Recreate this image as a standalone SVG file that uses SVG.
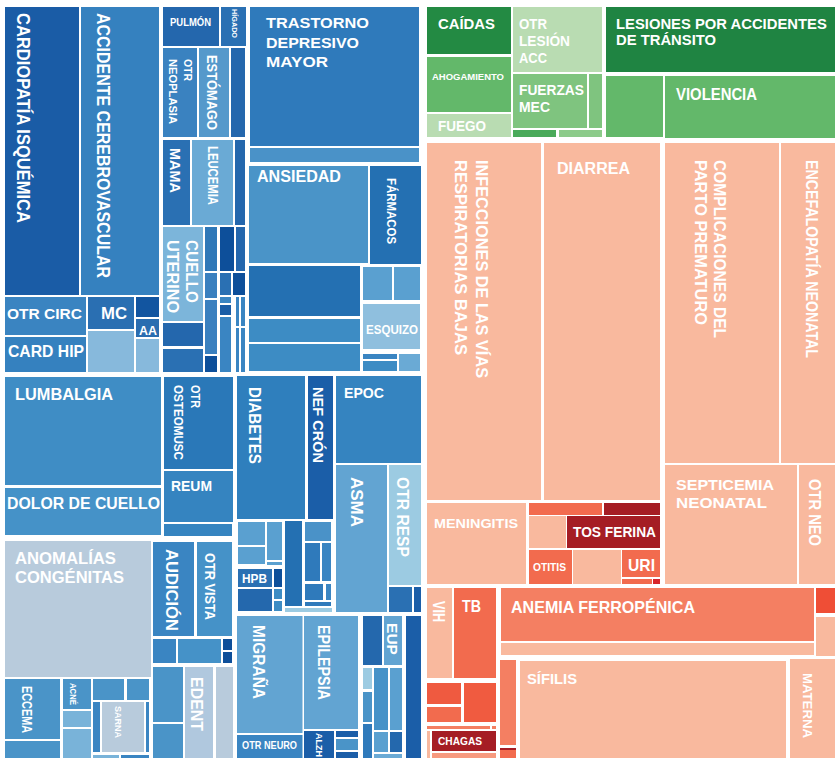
<svg xmlns="http://www.w3.org/2000/svg" width="835" height="761" viewBox="0 0 835 761">
<style>
text{font-family:"Liberation Sans",Arial,sans-serif;font-weight:bold;fill:#fff}
</style>
<rect width="835" height="761" fill="#fff"/>
<g id="cardiovascular">
<g id="n-cardiopatia"><rect x="5" y="7" width="74" height="288" fill="#1a5ca6"/><text transform="translate(17,13) rotate(90)" font-size="18" textLength="210" lengthAdjust="spacingAndGlyphs">CARDIOPATÍA ISQUÉMICA</text></g>
<g id="n-acv"><rect x="81" y="7" width="78" height="288" fill="#3581bf"/><text transform="translate(97,13) rotate(90)" font-size="18.5" textLength="265" lengthAdjust="spacingAndGlyphs">ACCIDENTE CEREBROVASCULAR</text></g>
<g id="n-otrcirc"><rect x="5" y="297" width="81" height="38" fill="#3a84c1"/><text x="7" y="319" font-size="15.5" textLength="75" lengthAdjust="spacingAndGlyphs">OTR CIRC</text></g>
<g id="n-cardhip"><rect x="5" y="337" width="81" height="35" fill="#3581bf"/><text x="8" y="357" font-size="16.5" textLength="76" lengthAdjust="spacingAndGlyphs">CARD HIP</text></g>
<g id="n-mc"><rect x="88" y="297" width="46" height="32" fill="#2a6fb2"/><text x="101" y="319" font-size="16.5" textLength="26" lengthAdjust="spacingAndGlyphs">MC</text></g>
<rect x="88" y="331" width="46" height="41" fill="#87b9dc"/>
<rect x="136" y="297" width="23" height="20" fill="#1255a0"/>
<g id="n-aa"><rect x="136" y="319" width="23" height="18" fill="#2a6db0"/><text x="139" y="335" font-size="12.5" textLength="18" lengthAdjust="spacingAndGlyphs">AA</text></g>
<rect x="136" y="339" width="23" height="33" fill="#87b9dc"/>
</g>
<g id="cancer">
<g id="n-pulmon"><rect x="163" y="7" width="56" height="39" fill="#2467ad"/><text x="170" y="26" font-size="10" textLength="41" lengthAdjust="spacingAndGlyphs">PULMÓN</text></g>
<g id="n-higado"><rect x="221" y="7" width="25" height="39" fill="#2a70b3"/><text transform="translate(232,9) rotate(90)" font-size="7" textLength="29" lengthAdjust="spacingAndGlyphs">HÍGADO</text></g>
<g id="n-otrneoplasia"><rect x="163" y="48" width="34" height="89" fill="#3a82c0"/><text transform="translate(184,59) rotate(90)" font-size="11.5" textLength="22" lengthAdjust="spacingAndGlyphs">OTR</text><text transform="translate(169,59) rotate(90)" font-size="11.5" textLength="65" lengthAdjust="spacingAndGlyphs">NEOPLASIA</text></g>
<g id="n-estomago"><rect x="199" y="48" width="30" height="89" fill="#5599cb"/><text transform="translate(207,55) rotate(90)" font-size="15" textLength="75" lengthAdjust="spacingAndGlyphs">ESTÓMAGO</text></g>
<rect x="231" y="48" width="14" height="89" fill="#2467ad"/>
<g id="n-mama"><rect x="163" y="140" width="27" height="85" fill="#2a70b3"/><text transform="translate(170,148) rotate(90)" font-size="15" textLength="45" lengthAdjust="spacingAndGlyphs">MAMA</text></g>
<g id="n-leucemia"><rect x="192" y="140" width="41" height="85" fill="#6aaad5"/><text transform="translate(208,146) rotate(90)" font-size="14" textLength="59" lengthAdjust="spacingAndGlyphs">LEUCEMIA</text></g>
<rect x="235" y="140" width="10" height="85" fill="#2467ad"/>
<g id="n-cuello"><rect x="163" y="227" width="40" height="94" fill="#7cb5da"/><text transform="translate(186,240) rotate(90)" font-size="17" textLength="63" lengthAdjust="spacingAndGlyphs">CUELLO</text><text transform="translate(167,240) rotate(90)" font-size="17" textLength="73" lengthAdjust="spacingAndGlyphs">UTERINO</text></g>
<rect x="163" y="323" width="40" height="23" fill="#2467ad"/>
<rect x="163" y="349" width="40" height="23" fill="#2a70b3"/>
<rect x="205" y="227" width="12" height="44" fill="#2f78b8"/>
<rect x="220" y="227" width="14" height="44" fill="#0d4f9a"/>
<rect x="236" y="227" width="9" height="44" fill="#2467ad"/>
<rect x="205" y="273" width="12" height="25" fill="#3a80bf"/>
<rect x="220" y="273" width="11" height="22" fill="#2a70b3"/>
<rect x="233" y="273" width="12" height="22" fill="#0d4f9a"/>
<rect x="205" y="300" width="12" height="54" fill="#3a80bf"/>
<rect x="205" y="356" width="12" height="16" fill="#0d4f9a"/>
<rect x="220" y="297" width="11" height="6" fill="#3a85c2"/>
<rect x="220" y="305" width="11" height="10" fill="#1a5da6"/>
<rect x="220" y="317" width="11" height="55" fill="#3a85c2"/>
<rect x="236" y="297" width="3" height="29" fill="#3a85c2"/>
<rect x="241" y="297" width="4" height="29" fill="#3a85c2"/>
<rect x="236" y="328" width="3" height="44" fill="#3a85c2"/>
<rect x="241" y="328" width="4" height="44" fill="#3a85c2"/>
</g>
<g id="mental">
<g id="n-depresivo"><rect x="250" y="7" width="169" height="139" fill="#2f7abb"/><text font-size="15.5"><tspan x="266" y="28" textLength="103" lengthAdjust="spacingAndGlyphs">TRASTORNO</tspan><tspan x="266" y="48" textLength="93" lengthAdjust="spacingAndGlyphs">DEPRESIVO</tspan><tspan x="266" y="67" textLength="62" lengthAdjust="spacingAndGlyphs">MAYOR</tspan></text></g>
<rect x="250" y="148" width="169" height="14" fill="#4a92c8"/>
<g id="n-ansiedad"><rect x="249" y="166" width="119" height="97" fill="#4a94c8"/><text x="257" y="182" font-size="16.5" textLength="84" lengthAdjust="spacingAndGlyphs">ANSIEDAD</text></g>
<g id="n-farmacos"><rect x="370" y="166" width="51" height="98" fill="#2470b2"/><text transform="translate(387,178) rotate(90)" font-size="12" textLength="66" lengthAdjust="spacingAndGlyphs">FÁRMACOS</text></g>
<rect x="249" y="266" width="111" height="50" fill="#2470b2"/>
<rect x="249" y="319" width="111" height="23" fill="#3d8cc4"/>
<rect x="249" y="344" width="111" height="27" fill="#3d8cc4"/>
<rect x="363" y="267" width="29" height="33" fill="#5aa0d0"/>
<rect x="394" y="267" width="26" height="33" fill="#5aa0d0"/>
<g id="n-esquizo"><rect x="363" y="304" width="57" height="45" fill="#8fbfde"/><text x="366" y="334" font-size="13.5" textLength="52" lengthAdjust="spacingAndGlyphs">ESQUIZO</text></g>
<rect x="363" y="354" width="34" height="5" fill="#3a85c2"/>
<rect x="363" y="361" width="34" height="10" fill="#3d8cc4"/>
<rect x="399" y="354" width="21" height="17" fill="#6aaad5"/>
</g>
<g id="musculo">
<g id="n-lumbalgia"><rect x="5" y="377" width="156" height="108" fill="#3f8dc5"/><text x="15" y="400" font-size="16.5" textLength="98" lengthAdjust="spacingAndGlyphs">LUMBALGIA</text></g>
<g id="n-dolorcuello"><rect x="5" y="488" width="156" height="47" fill="#4592c8"/><text x="7" y="509" font-size="16.5" textLength="153" lengthAdjust="spacingAndGlyphs">DOLOR DE CUELLO</text></g>
<g id="n-otrosteo"><rect x="164" y="377" width="69" height="92" fill="#2a78b8"/><text transform="translate(191,385) rotate(90)" font-size="12.5" textLength="23" lengthAdjust="spacingAndGlyphs">OTR</text><text transform="translate(174,385) rotate(90)" font-size="12.5" textLength="75" lengthAdjust="spacingAndGlyphs">OSTEOMUSC</text></g>
<g id="n-reum"><rect x="164" y="471" width="69" height="51" fill="#3584c0"/><text x="171" y="491" font-size="15" textLength="41" lengthAdjust="spacingAndGlyphs">REUM</text></g>
<rect x="164" y="524" width="68" height="12" fill="#3584c0"/>
</g>
<g id="chronic">
<g id="n-diabetes"><rect x="237" y="376" width="68" height="143" fill="#2f7fbd"/><text transform="translate(249,387) rotate(90)" font-size="17" textLength="77" lengthAdjust="spacingAndGlyphs">DIABETES</text></g>
<g id="n-nefcron"><rect x="308" y="376" width="25" height="143" fill="#1b5ea8"/><text transform="translate(313,387) rotate(90)" font-size="15" textLength="76" lengthAdjust="spacingAndGlyphs">NEF CRÓN</text></g>
<g id="n-epoc"><rect x="336" y="376" width="85" height="87" fill="#3584c0"/><text x="344" y="398" font-size="15" textLength="40" lengthAdjust="spacingAndGlyphs">EPOC</text></g>
<g id="n-asma"><rect x="336" y="465" width="51" height="147" fill="#62a4d2"/><text transform="translate(351,477) rotate(90)" font-size="16.5" textLength="50" lengthAdjust="spacingAndGlyphs">ASMA</text></g>
<g id="n-otrresp"><rect x="389" y="465" width="32" height="120" fill="#9ccbe2"/><text transform="translate(397,477) rotate(90)" font-size="17" textLength="80" lengthAdjust="spacingAndGlyphs">OTR RESP</text></g>
<rect x="389" y="587" width="23" height="25" fill="#2a70b3"/>
<rect x="414" y="587" width="7" height="25" fill="#1b5ea8"/>
<rect x="238" y="522" width="27" height="23" fill="#5aa0d0"/>
<rect x="238" y="547" width="27" height="17" fill="#5aa0d0"/>
<rect x="267" y="522" width="15" height="38" fill="#5aa0d0"/>
<rect x="267" y="562" width="15" height="3" fill="#5aa0d0"/>
<g id="n-hpb"><rect x="238" y="569" width="34" height="18" fill="#2a70b3"/><text x="242" y="583" font-size="12.5" textLength="25" lengthAdjust="spacingAndGlyphs">HPB</text></g>
<rect x="238" y="589" width="34" height="22" fill="#2468ad"/>
<rect x="274" y="569" width="8" height="18" fill="#0d4f9a"/>
<rect x="274" y="589" width="8" height="10" fill="#3d8cc4"/>
<rect x="274" y="601" width="8" height="10" fill="#3d8cc4"/>
<rect x="285" y="521" width="17" height="85" fill="#2470b2"/>
<rect x="285" y="608" width="47" height="4" fill="#9ccbe2"/>
<rect x="305" y="522" width="26" height="19" fill="#4a92c8"/>
<rect x="305" y="543" width="15" height="38" fill="#2f7abb"/>
<rect x="322" y="543" width="9" height="38" fill="#3a85c2"/>
<rect x="305" y="584" width="18" height="16" fill="#2f7abb"/>
<rect x="326" y="584" width="5" height="16" fill="#3a85c2"/>
<rect x="305" y="602" width="26" height="4" fill="#2f7abb"/>
</g>
<g id="other-ncd">
<g id="n-anomalias"><rect x="5" y="541" width="146" height="136" fill="#b8cbdc"/><text font-size="16.5"><tspan x="15" y="564" textLength="101" lengthAdjust="spacingAndGlyphs">ANOMALÍAS</tspan><tspan x="15" y="583" textLength="109" lengthAdjust="spacingAndGlyphs">CONGÉNITAS</tspan></text></g>
<g id="n-audicion"><rect x="153" y="542" width="41" height="94" fill="#3a85c2"/><text transform="translate(166,549) rotate(90)" font-size="17" textLength="82" lengthAdjust="spacingAndGlyphs">AUDICIÓN</text></g>
<g id="n-otrvista"><rect x="197" y="542" width="35" height="94" fill="#4592c8"/><text transform="translate(205,553) rotate(90)" font-size="15" textLength="67" lengthAdjust="spacingAndGlyphs">OTR VISTA</text></g>
<rect x="153" y="639" width="23" height="24" fill="#3a85c2"/>
<rect x="178" y="639" width="43" height="24" fill="#4592c8"/>
<rect x="223" y="639" width="9" height="11" fill="#0d4f9a"/>
<rect x="223" y="652" width="9" height="11" fill="#0d4f9a"/>
<g id="n-eccema"><rect x="5" y="679" width="55" height="60" fill="#4a94c8"/><text transform="translate(22,686) rotate(90)" font-size="14" textLength="47" lengthAdjust="spacingAndGlyphs">ECCEMA</text></g>
<rect x="5" y="741" width="55" height="17" fill="#4a94c8"/>
<g id="n-acne"><rect x="63" y="679" width="28" height="30" fill="#4a94c8"/><text transform="translate(70,683) rotate(90)" font-size="9" textLength="22" lengthAdjust="spacingAndGlyphs">ACNÉ</text></g>
<rect x="63" y="711" width="28" height="16" fill="#79b3d9"/>
<rect x="63" y="729" width="28" height="29" fill="#79b3d9"/>
<rect x="93" y="679" width="31" height="21" fill="#4a94c8"/>
<rect x="127" y="679" width="22" height="21" fill="#4a94c8"/>
<rect x="93" y="702" width="7" height="50" fill="#3a85c2"/>
<g id="n-sarna"><rect x="102" y="702" width="42" height="50" fill="#b8cbdc"/><text transform="translate(115,706) rotate(90)" font-size="9" textLength="32" lengthAdjust="spacingAndGlyphs">SARNA</text></g>
<rect x="146" y="702" width="3" height="50" fill="#3a85c2"/>
<rect x="93" y="755" width="26" height="3" fill="#79b3d9"/>
<rect x="121" y="755" width="28" height="3" fill="#3a85c2"/>
<rect x="153" y="667" width="30" height="55" fill="#4a94c8"/>
<rect x="153" y="724" width="30" height="34" fill="#4a94c8"/>
<g id="n-edent"><rect x="185" y="667" width="28" height="91" fill="#b0c8de"/><text transform="translate(191,677) rotate(90)" font-size="16.5" textLength="54" lengthAdjust="spacingAndGlyphs">EDENT</text></g>
<rect x="216" y="667" width="17" height="91" fill="#b8cbdc"/>
</g>
<g id="neuro">
<g id="n-migrana"><rect x="237" y="616" width="65.5" height="117" fill="#62a4d2"/><text transform="translate(253,625) rotate(90)" font-size="16.5" textLength="74" lengthAdjust="spacingAndGlyphs">MIGRAÑA</text></g>
<g id="n-epilepsia"><rect x="304" y="616" width="54" height="113" fill="#62a4d2"/><text transform="translate(318,625) rotate(90)" font-size="17" textLength="75" lengthAdjust="spacingAndGlyphs">EPILEPSIA</text></g>
<g id="n-otrneuro"><rect x="237" y="735" width="65.5" height="23" fill="#3a85c2"/><text x="242" y="749" font-size="10" textLength="55" lengthAdjust="spacingAndGlyphs">OTR NEURO</text></g>
<g id="n-alzh"><rect x="304" y="731" width="30" height="27" fill="#1b5ea8"/><text transform="translate(316,733) rotate(90)" font-size="8.5" textLength="24" lengthAdjust="spacingAndGlyphs">ALZH</text></g>
<rect x="336" y="731" width="22" height="6" fill="#1b5ea8"/>
<rect x="336" y="739" width="22" height="11" fill="#4a94c8"/>
<rect x="336" y="752" width="22" height="6" fill="#1b5ea8"/>
<rect x="363" y="616" width="19" height="49" fill="#2468ad"/>
<g id="n-eup"><rect x="384" y="616" width="18" height="49" fill="#62a4d2"/><text transform="translate(387,623) rotate(90)" font-size="15" textLength="32" lengthAdjust="spacingAndGlyphs">EUP</text></g>
<rect x="406" y="616" width="15" height="142" fill="#1b5ea8"/>
<rect x="363" y="668" width="9" height="21" fill="#9ccbe2"/>
<rect x="363" y="692" width="9" height="30" fill="#4a94c8"/>
<rect x="363" y="724" width="9" height="34" fill="#2f7abb"/>
<rect x="374" y="668" width="14" height="62" fill="#4592c8"/>
<rect x="390" y="668" width="12" height="62" fill="#5aa0d0"/>
<rect x="374" y="732" width="14" height="20" fill="#5aa0d0"/>
<rect x="390" y="732" width="12" height="20" fill="#2468ad"/>
<rect x="374" y="754" width="28" height="4" fill="#6aaad5"/>
</g>
<g id="injuries">
<g id="n-caidas"><rect x="427" y="7" width="84" height="47" fill="#238a43"/><text x="438" y="29" font-size="15.5" textLength="57" lengthAdjust="spacingAndGlyphs">CAÍDAS</text></g>
<g id="n-ahogamiento"><rect x="427" y="57" width="84" height="55" fill="#63b86a"/><text x="432" y="80" font-size="9.5" textLength="72" lengthAdjust="spacingAndGlyphs">AHOGAMIENTO</text></g>
<g id="n-fuego"><rect x="427" y="114" width="84" height="23" fill="#b9dcb2"/><text x="438" y="131" font-size="15.5" textLength="48" lengthAdjust="spacingAndGlyphs">FUEGO</text></g>
<g id="n-otrlesion"><rect x="513" y="7" width="89" height="65" fill="#b9dcb2"/><text font-size="15.5"><tspan x="519" y="29" textLength="28" lengthAdjust="spacingAndGlyphs">OTR</tspan><tspan x="519" y="46" textLength="51" lengthAdjust="spacingAndGlyphs">LESIÓN</tspan><tspan x="519" y="63" textLength="28" lengthAdjust="spacingAndGlyphs">ACC</tspan></text></g>
<g id="n-fuerzas"><rect x="513" y="74" width="74" height="54" fill="#7fc47f"/><text font-size="15.5"><tspan x="519" y="95" textLength="65" lengthAdjust="spacingAndGlyphs">FUERZAS</tspan><tspan x="519" y="112" textLength="31" lengthAdjust="spacingAndGlyphs">MEC</tspan></text></g>
<rect x="589" y="74" width="13" height="54" fill="#7fc47f"/>
<rect x="513" y="130" width="43" height="7" fill="#4aaa5a"/>
<rect x="559" y="130" width="43" height="7" fill="#8ccb8a"/>
<g id="n-transito"><rect x="606" y="7" width="229" height="65" fill="#1f8442"/><text font-size="14.8"><tspan x="616" y="29">LESIONES POR ACCIDENTES</tspan><tspan x="616" y="45">DE TRÁNSITO</tspan></text></g>
<rect x="606" y="76" width="57" height="61" fill="#63b86a"/>
<g id="n-violencia"><rect x="665" y="76" width="170" height="62" fill="#63b86a"/><text x="676" y="100" font-size="16.5" textLength="81" lengthAdjust="spacingAndGlyphs">VIOLENCIA</text></g>
</g>
<g id="communicable">
<g id="n-infecciones"><rect x="427" y="143" width="114" height="357" fill="#f9b99e"/><text transform="translate(476,160) rotate(90)" font-size="17" textLength="218" lengthAdjust="spacingAndGlyphs">INFECCIONES DE LAS VÍAS</text><text transform="translate(455,160) rotate(90)" font-size="17" textLength="195" lengthAdjust="spacingAndGlyphs">RESPIRATORIAS BAJAS</text></g>
<g id="n-diarrea"><rect x="544" y="143" width="116" height="357" fill="#f9b99e"/><text x="557" y="174" font-size="16" textLength="73" lengthAdjust="spacingAndGlyphs">DIARREA</text></g>
<g id="n-complicaciones"><rect x="665" y="143" width="114" height="320" fill="#f9b99e"/><text transform="translate(714,160) rotate(90)" font-size="17" textLength="178" lengthAdjust="spacingAndGlyphs">COMPLICACIONES DEL</text><text transform="translate(695,160) rotate(90)" font-size="17" textLength="165" lengthAdjust="spacingAndGlyphs">PARTO PREMATURO</text></g>
<g id="n-encefalopatia"><rect x="781" y="143" width="54" height="320" fill="#f9b99e"/><text transform="translate(806,160) rotate(90)" font-size="16" textLength="198" lengthAdjust="spacingAndGlyphs">ENCEFALOPATÍA NEONATAL</text></g>
<g id="n-septicemia"><rect x="665" y="465" width="132" height="119" fill="#f9b99e"/><text font-size="15.5"><tspan x="676" y="490" textLength="98" lengthAdjust="spacingAndGlyphs">SEPTICEMIA</tspan><tspan x="676" y="508" textLength="91" lengthAdjust="spacingAndGlyphs">NEONATAL</tspan></text></g>
<g id="n-otrneo"><rect x="799" y="465" width="36" height="119" fill="#f9b99e"/><text transform="translate(809,479) rotate(90)" font-size="17" textLength="67" lengthAdjust="spacingAndGlyphs">OTR NEO</text></g>
<g id="n-meningitis"><rect x="427" y="503" width="99" height="81" fill="#f9b99e"/><text x="434" y="528" font-size="13.5" textLength="84" lengthAdjust="spacingAndGlyphs">MENINGITIS</text></g>
<rect x="529" y="503" width="73" height="12" fill="#f26b4e"/>
<rect x="604" y="503" width="56" height="12" fill="#a51d24"/>
<rect x="529" y="516" width="37" height="32" fill="#f9b99e"/>
<g id="n-tosferina"><rect x="567" y="516" width="93" height="32" fill="#a51d24"/><text x="573" y="537" font-size="14" textLength="83" lengthAdjust="spacingAndGlyphs">TOS FERINA</text></g>
<g id="n-otitis"><rect x="529" y="550" width="43" height="34" fill="#f26b4e"/><text x="533" y="571" font-size="10.5" textLength="33" lengthAdjust="spacingAndGlyphs">OTITIS</text></g>
<rect x="573" y="550" width="48" height="34" fill="#f9b99e"/>
<g id="n-uri"><rect x="622" y="550" width="38" height="27" fill="#f26b4e"/><text x="628" y="571" font-size="17" textLength="27" lengthAdjust="spacingAndGlyphs">URI</text></g>
<rect x="622" y="579" width="30" height="5" fill="#f26b4e"/>
<rect x="653" y="579" width="7" height="5" fill="#d7262b"/>
<g id="n-vih"><rect x="427" y="588" width="25" height="90" fill="#f9b99e"/><text transform="translate(433,601) rotate(90)" font-size="16" textLength="21" lengthAdjust="spacingAndGlyphs">VIH</text></g>
<g id="n-tb"><rect x="454" y="588" width="42" height="90" fill="#f26b4e"/><text x="462" y="612" font-size="16.5" textLength="19" lengthAdjust="spacingAndGlyphs">TB</text></g>
<g id="n-anemia"><rect x="501" y="588" width="313" height="53" fill="#f47f62"/><text x="511" y="613" font-size="16.5" textLength="184" lengthAdjust="spacingAndGlyphs">ANEMIA FERROPÉNICA</text></g>
<rect x="501" y="643" width="313" height="12" fill="#f9b99e"/>
<rect x="816" y="588" width="19" height="25" fill="#ef4e36"/>
<rect x="816" y="617" width="19" height="39" fill="#f9b99e"/>
<g id="n-sifilis"><rect x="520" y="661" width="266" height="97" fill="#f9b99e"/><text x="527" y="684" font-size="15.5" textLength="50" lengthAdjust="spacingAndGlyphs">SÍFILIS</text></g>
<g id="n-materna"><rect x="790" y="659" width="45" height="99" fill="#f9b99e"/><text transform="translate(803,673) rotate(90)" font-size="13.5" textLength="65" lengthAdjust="spacingAndGlyphs">MATERNA</text></g>
<rect x="500" y="660" width="16" height="85" fill="#f47f62"/>
<rect x="500" y="748" width="16" height="10" fill="#f26b4e"/>
<rect x="500" y="748" width="16" height="2" fill="#a51d24"/>
<rect x="427" y="683" width="34" height="21" fill="#ef5a40"/>
<rect x="427" y="707" width="34" height="15" fill="#f26b4e"/>
<rect x="464" y="683" width="32" height="39" fill="#f05b40"/>
<rect x="427" y="726" width="63" height="3" fill="#f47f62"/>
<rect x="492" y="726" width="4" height="3" fill="#f47f62"/>
<g id="n-chagas"><rect x="432" y="731" width="64" height="20" fill="#a51d24"/><text x="438" y="745" font-size="11" textLength="44" lengthAdjust="spacingAndGlyphs">CHAGAS</text></g>
<rect x="432" y="753" width="64" height="5" fill="#f79a7f"/>
<rect x="427" y="731" width="3" height="27" fill="#f9b99e"/>
</g>
</svg>
